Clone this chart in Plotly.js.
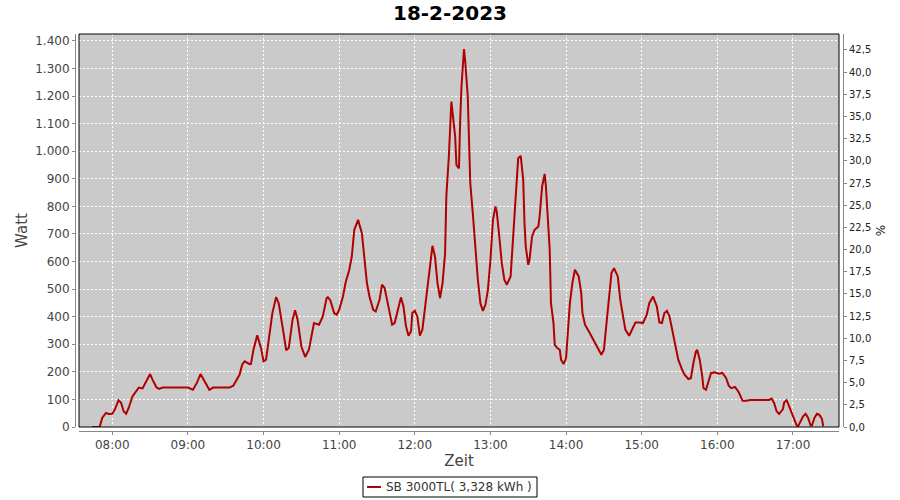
<!DOCTYPE html>
<html>
<head>
<meta charset="utf-8">
<script src="https://cdn.plot.ly/plotly-3.0.1.min.js"></script>
<style>html,body{margin:0;padding:0;background:#fff;}#chart{width:900px;height:500px;}</style>
</head>
<body>
<div id="chart"></div>
<script>
// ---- data ----
const chartDate = '2023-02-18';
const chartTitle = '18-2-2023';
const seriesName = 'SB 3000TL( 3,328 kWh )';
const times = [
 '07:44','07:50','07:52','07:55','07:57','08:00','08:02','08:05','08:07','08:09','08:11','08:13','08:16','08:19','08:21','08:24','08:26','08:30','08:32','08:35','08:37','08:40','08:50','09:00','09:04','09:07','09:10','09:13','09:17','09:20','09:33','09:36','09:38','09:41','09:43','09:45','09:49','09:50','09:52','09:55','09:58',
 '10:00','10:02','10:05','10:07','10:10','10:12','10:15','10:18','10:20','10:23','10:25','10:27','10:30','10:33','10:36','10:39','10:40','10:44','10:47','10:50','10:51','10:53','10:56','10:58',
 '11:00','11:03','11:05','11:08','11:10','11:12','11:15','11:18','11:20','11:22','11:24','11:27','11:29','11:32','11:34','11:36','11:38','11:40','11:42','11:44','11:47','11:49','11:51','11:53','11:55','11:57','11:58',
 '12:00','12:02','12:04','12:06','12:09','12:12','12:14','12:16','12:18','12:20','12:22','12:24','12:25','12:27','12:28','12:29','12:30','12:32','12:33','12:35','12:36','12:37','12:39','12:40','12:42','12:43','12:44','12:46','12:48','12:50','12:52','12:54','12:56','12:58',
 '13:00','13:02','13:04','13:05','13:07','13:09','13:11','13:13','13:16','13:17','13:19','13:21','13:22','13:24','13:26','13:27','13:28','13:30','13:31','13:33','13:35','13:38','13:39','13:41','13:43','13:44','13:45','13:47','13:48','13:50','13:51','13:53','13:55','13:56','13:58',
 '14:00','14:01','14:03','14:05','14:07','14:10','14:12','14:13','14:15','14:18','14:20','14:22','14:25','14:28','14:30','14:32','14:34','14:36','14:38','14:41','14:43','14:45','14:47','14:50','14:52','14:55','14:58',
 '15:01','15:04','15:06','15:09','15:12','15:14','15:16','15:18','15:20','15:22','15:24','15:27','15:29','15:32','15:34','15:37','15:39','15:41','15:43','15:44','15:46','15:48','15:49','15:51','15:53','15:55','15:58',
 '16:01','16:04','16:07','16:09','16:11','16:14','16:17','16:20','16:23','16:26','16:41','16:43','16:45','16:47','16:49','16:52','16:53','16:55','16:57',
 '17:00','17:03','17:04','17:06','17:08','17:10','17:12','17:14','17:15','17:17','17:19','17:21','17:23','17:24'
];
const watts = [
 0,0,33,51,47,48,63,97,88,57,48,69,111,129,143,140,159,192,171,144,138,143,143,143,135,159,192,165,135,143,143,150,165,190,226,238,228,229,280,333,286,
 238,244,340,413,471,449,365,278,286,389,423,389,292,254,280,353,377,371,401,467,471,459,413,407,
 425,473,522,570,618,715,751,703,606,522,473,425,419,461,516,504,461,413,371,377,437,470,437,365,331,347,413,
 421,401,331,353,473,594,657,618,522,467,522,630,836,981,1113,1180,1138,1053,950,938,1113,1234,1370,1325,1198,981,884,775,643,534,449,421,443,498,
 606,751,800,781,691,594,534,516,546,618,739,896,975,983,896,739,655,588,606,691,715,727,763,872,918,872,787,643,449,377,298,286,280,244,228,
 250,316,449,522,570,546,486,413,371,347,330,310,286,262,280,377,486,558,576,546,461,401,353,331,353,379,379,
 377,407,449,473,437,379,377,413,421,401,353,286,244,208,190,174,177,232,274,280,244,184,141,135,165,196,198,
 193,196,177,150,141,145,126,95,95,98,98,103,87,57,47,65,89,97,75,
 45,5,2,24,39,48,33,5,5,33,48,44,29,2
];
const leftTitle = 'Watt';
const rightTitle = '%';
const xTitle = 'Zeit';
const xRange = ['07:33:36', '17:36:30'];
const leftRange = [0, 1425];
const rightRange = [0, 44.3];

const xs = times.map(t => chartDate + ' ' + t);

const W = 900, H = 500;
const plotL = 79, plotR = 839, plotT = 34, plotB = 427;
const fontFam = 'DejaVu Sans, Verdana, sans-serif';
const lineColor = '#b00000';

// legend box geometry (pixels)
const legL = 363, legR = 537, legT = 477, legB = 497;
const legMidY = (legT + legB) / 2;
const px = v => v / W, py = v => 1 - v / H;

const traces = [
  {
    x: xs, y: watts, type: 'scatter', mode: 'lines', name: seriesName,
    line: {color: lineColor, width: 2},
    xaxis: 'x', yaxis: 'y', hoverinfo: 'skip', showlegend: false
  },
  {
    x: [], y: [], type: 'scatter', mode: 'lines', showlegend: false,
    xaxis: 'x', yaxis: 'y2', hoverinfo: 'skip'
  }
];

const layout = {
  width: W, height: H,
  margin: {l: 0, r: 0, t: 0, b: 0, pad: 0, autoexpand: false},
  paper_bgcolor: '#ffffff',
  plot_bgcolor: '#cacaca',
  separators: ',.',
  font: {family: fontFam, size: 12, color: '#444444'},
  hovermode: false,
  showlegend: false,
  title: {
    text: '<b>' + chartTitle + '</b>',
    font: {family: fontFam, size: 20, color: '#000000'},
    x: 0.5, xanchor: 'center', xref: 'paper',
    y: 1 - 13 / H, yanchor: 'middle', yref: 'container'
  },
  xaxis: {
    type: 'date',
    domain: [plotL / W, plotR / W],
    range: xRange.map(t => chartDate + ' ' + t),
    anchor: 'free', position: (H - 431) / H,
    dtick: 3600000, tick0: chartDate + ' 08:00',
    tickformat: '%H:%M',
    ticks: 'outside', ticklen: 3, tickcolor: '#888888',
    showline: true, linecolor: '#888888', linewidth: 1,
    showgrid: true, gridcolor: '#ffffff', gridwidth: 1, griddash: '2px,2px',
    zeroline: false,
    tickfont: {family: fontFam, size: 12, color: '#444444'},
    title: {text: xTitle, font: {family: fontFam, size: 15, color: '#444444'}, standoff: 4},
    automargin: false, fixedrange: true
  },
  yaxis: {
    domain: [(H - plotB) / H, (H - plotT) / H],
    range: leftRange,
    anchor: 'free', position: 75 / W,
    dtick: 100, tick0: 0,
    tickformat: ',d', separatethousands: true,
    ticks: 'outside', ticklen: 3, tickcolor: '#888888',
    showline: true, linecolor: '#888888', linewidth: 1,
    showgrid: true, gridcolor: '#ffffff', gridwidth: 1, griddash: '2px,2px',
    zeroline: false,
    tickfont: {family: fontFam, size: 12, color: '#444444'},
    title: {text: leftTitle, font: {family: fontFam, size: 15, color: '#444444'}, standoff: 2},
    automargin: false, fixedrange: true
  },
  yaxis2: {
    overlaying: 'y', side: 'right',
    range: rightRange,
    anchor: 'free', position: 843 / W,
    dtick: 2.5, tick0: 0,
    tickformat: '.1f',
    ticks: 'outside', ticklen: 3, tickcolor: '#888888',
    showline: true, linecolor: '#888888', linewidth: 1,
    showgrid: false, zeroline: false,
    tickfont: {family: fontFam, size: 10, color: '#222222'},
    title: {text: rightTitle, font: {family: fontFam, size: 12, color: '#222222'}, standoff: 6},
    automargin: false, fixedrange: true
  },
  annotations: [
    {
      text: seriesName, showarrow: false,
      xref: 'paper', yref: 'paper',
      x: px(legR - 3), y: py(legMidY),
      xanchor: 'right', yanchor: 'middle',
      font: {family: fontFam, size: 12, color: '#333333'}
    }
  ],
  shapes: [
    {type: 'rect', xref: 'x domain', yref: 'y domain', x0: 0, x1: 1, y0: 0, y1: 1,
     line: {color: '#000000', width: 1}, fillcolor: 'rgba(0,0,0,0)', layer: 'above'},
    {type: 'rect', xref: 'paper', yref: 'paper',
     x0: px(legL), x1: px(legR), y0: py(legB), y1: py(legT),
     line: {color: '#000000', width: 1}, fillcolor: '#ffffff', layer: 'above'},
    {type: 'line', xref: 'paper', yref: 'paper',
     x0: px(legL + 4), x1: px(legL + 18), y0: py(legMidY), y1: py(legMidY),
     line: {color: lineColor, width: 2}, layer: 'above'}
  ]
};

Plotly.newPlot('chart', traces, layout, {staticPlot: true, displayModeBar: false});
</script>
</body>
</html>
